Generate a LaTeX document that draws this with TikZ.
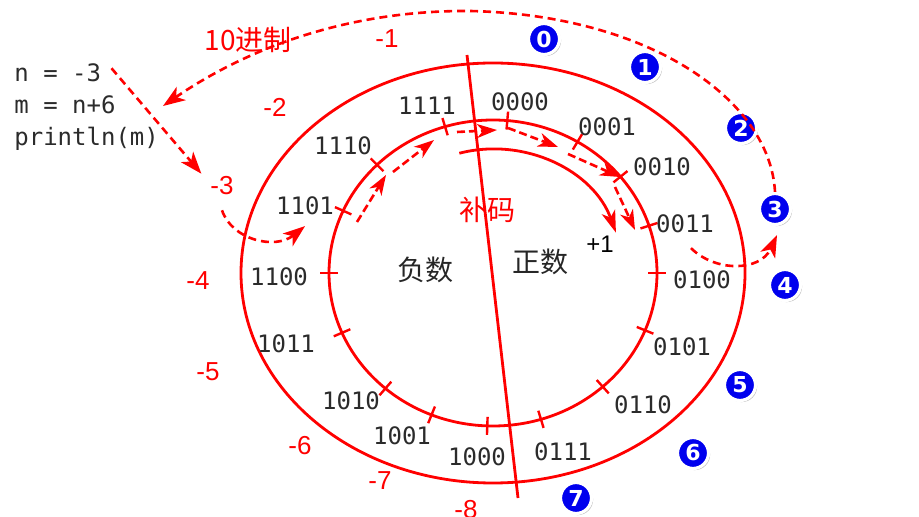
\documentclass[tikz,border=0pt]{standalone}
\usepackage{fontspec}
\setmainfont{Liberation Sans}
\setmonofont{DejaVu Sans Mono}
\newfontfamily\cjk{Noto Sans CJK SC}
\newfontfamily\badgefont{DejaVu Sans}
\usetikzlibrary{calc,arrows.meta,shadows}
\definecolor{ring}{HTML}{FF0000}
\definecolor{bits}{HTML}{2B2B2B}
\definecolor{badge}{HTML}{0000EE}
\tikzset{
  ringLine/.style={line width=1.4pt, draw=ring},
  tickMark/.style={line width=1.2pt, draw=ring},
  flowArrow/.style={line width=1.3pt, draw=ring, dash pattern=on 4pt off 2.5pt, -{Stealth[length=11pt,width=8pt,inset=3pt]}},
  stepArrow/.style={line width=1.3pt, draw=ring, dash pattern=on 4pt off 2pt, -{Stealth[length=10pt,width=7pt,inset=3pt]}},
  binLab/.style={text=bits, font=\ttfamily\fontsize{12}{14}\selectfont},
  decLab/.style={text=ring, font=\fontsize{13}{15}\selectfont},
  codeLab/.style={text=bits, anchor=base west, inner sep=0pt, font=\ttfamily\fontsize{12}{14}\selectfont},
  cjkLab/.style={font=\cjk\fontsize{14}{16}\selectfont},
  badgeNode/.style={circle, fill=badge, draw=white, line width=1.6pt, minimum size=15.5pt, inner sep=0pt,
    text=white, font=\badgefont\bfseries\fontsize{11}{11}\selectfont,
    drop shadow={shadow xshift=0.8pt, shadow yshift=-0.8pt, fill=black!45, opacity=.6}}
}
\begin{document}
\begin{tikzpicture}[x=0.5pt,y=-0.5pt]
\useasboundingbox (0,0) rectangle (919,517);
\coordinate (ctr) at (493,273);

% the two rings and the split line
\draw[ringLine] (ctr) ellipse [x radius=252, y radius=210];
\draw[ringLine] (ctr) ellipse [x radius=164, y radius=153];
\draw[ringLine] (467,55) -- (518,498);
\foreach \a in {-107,-85,-59,-39,-18,0,22,48,73,92,112,131,157,180,-156,-135}
  \draw[tickMark] ($(ctr)+(\a:155 and 144)$) -- ($(ctr)+(\a:173 and 162)$);

% +1 arc and the steps along the ring
\draw[ringLine,-{Stealth[length=11pt,width=7pt,inset=3pt]}] (ctr) ++(-105:130 and 124)
  arc[start angle=-105, end angle=-19, x radius=130, y radius=124];
\draw[stepArrow] (357,222) -- (386,175);
\draw[stepArrow] (393,172) -- (434,140);
\draw[stepArrow] (457,132) -- (497,130);
\draw[stepArrow] (508,128) -- (558,147);
\draw[stepArrow] (568,154) -- (620,177);
\draw[stepArrow] (615,187) -- (635,230);

% code
\node[codeLab] (codeN) at (14,82) {n = -3};
\node[codeLab] (codeM) at (14,114) {m = n+6};
\node[codeLab] (codeP) at (14,146) {println(m)};

% binary on the ring
\foreach \t/\x/\y in {1111/427/106, 0000/520/102, 0001/607/127, 0010/662/167,
    0011/685/224, 0100/702/280, 0101/682/347, 0110/643/405, 0111/563/452,
    1000/477/457, 1001/402/436, 1010/351/401, 1011/286/344, 1100/279/277,
    1101/305/206, 1110/343/146}
  \node[binLab] (b\t) at (\x,\y) {\t};

% decimal
\foreach \v/\x/\y in {1/387/39, 2/275/107, 3/222/186, 4/198/281, 5/208/372,
    6/300/446, 7/380/481, 8/466/510}
  \node[decLab] (dm\v) at (\x,\y) {-\v};

\node[cjkLab, text=ring] (dec) at (248,40) {10进制};
\node[cjkLab, text=ring] (comp) at (487,210) {补码};
\node[cjkLab, text=black!85] (neg) at (425,270) {负数};
\node[cjkLab, text=black!85] (pos) at (540,262) {正数};
\node[font=\fontsize{12}{14}\selectfont] (plus) at (600,244) {+1};

% connectors
\coordinate (tipM) at (163,106);
\coordinate (tip3) at (777,235);
\draw[flowArrow] (codeN.east) ++(10,-5) -- ([xshift=-1pt,yshift=-2pt]dm3.north west);
\draw[flowArrow] ([yshift=-4pt]dm3.south) .. controls (232,240) and (275,250) .. ([yshift=-2pt]b1101.south);
\draw[flowArrow] ([xshift=3pt,yshift=-4pt]b0011.south) .. controls (715,272) and (760,272) .. (tip3);

% badges
\foreach \n/\x/\y in {0/544/39, 1/645/67, 2/741/128, 3/775/209, 4/785/285,
    5/740/385, 6/693/453, 7/576/498}
  \node[badgeNode] (bd\n) at (\x,\y) {\n};

\draw[flowArrow] (bd3.north) .. controls (770,100) and (650,15) .. (470,11)
  .. controls (330,10) and (230,60) .. (tipM);
\end{tikzpicture}
\end{document}
